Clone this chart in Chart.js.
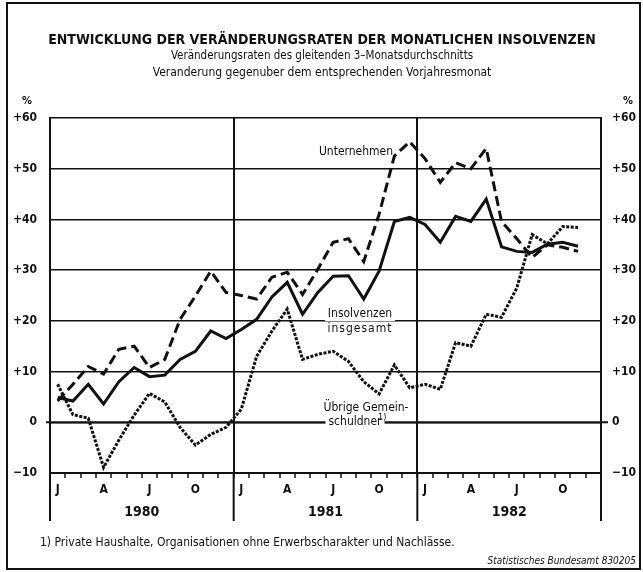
<!DOCTYPE html>
<html>
<head>
<meta charset="utf-8">
<script src="https://cdn.jsdelivr.net/npm/chart.js@4.4.1/dist/chart.umd.min.js"></script>
<style>
html,body{margin:0;padding:0;background:#fff;}
#wrap{width:643px;height:572px;position:relative;}
</style>
</head>
<body>
<div id="wrap"><canvas id="c" width="643" height="572"></canvas></div>
<script>
// ---- data ----
const years = ['1980', '1981', '1982'];
const monthLetters = ['J','F','M','A','M','J','J','A','S','O','N','D'];
const shownMonths = ['J','A','J','O'];
const months = [];
years.forEach(y => monthLetters.forEach((m, i) => months.push(y + '-' + (i + 1))));

const unternehmen = [
  4.2, 7.5, 11, 9.5, 14.4, 15, 10.8, 12.4, 20.3, 24.9, 29.8, 25.6,
  25, 24.3, 28.6, 29.6, 25.2, 30.2, 35.5, 36.2, 31.7, 41, 52.5, 55.3,
  52, 47.3, 51.2, 50, 54, 39.6, 36.2, 32.5, 35, 34.5, 33.7
];
const insgesamt = [
  4.9, 4.2, 7.5, 3.6, 8, 10.8, 9, 9.3, 12.4, 14, 18, 16.5,
  18.3, 20.3, 24.7, 27.6, 21.3, 25.6, 28.8, 28.9, 24.3, 29.8, 39.6, 40.4,
  39, 35.5, 40.6, 39.6, 44, 34.6, 33.7, 33.5, 35.1, 35.5, 34.7
];
const uebrige = [
  7.5, 1.5, 0.8, -8.9, -3.5, 1.4, 5.7, 4, -1, -4.5, -2.4, -1,
  2.6, 13, 18, 22.3, 12.4, 13.4, 14, 12, 8, 5.6, 11.3, 6.8,
  7.5, 6.5, 15.7, 15, 21.3, 20.7, 26.5, 37, 35.2, 38.6, 38.4
];
const yTicks = [-10, 0, 10, 20, 30, 40, 50, 60];

const FONT = '"Liberation Sans Narrow", "DejaVu Sans Condensed", "Roboto Condensed", sans-serif';
const BLACK = '#111';

const decor = {
  id: 'decor',
  beforeDatasetsDraw(chart) {
    const ctx = chart.ctx, ys = chart.scales.y;
    const y0 = ys.getPixelForValue(0);
    ctx.save();
    ctx.strokeStyle = BLACK;
    ctx.lineWidth = 2;
    ctx.beginPath();
    ctx.moveTo(46, y0); ctx.lineTo(608, y0);
    ctx.stroke();

    ctx.textAlign = 'center';
    ctx.textBaseline = 'middle';
    // series labels with white backing (under the data lines, over the grid)
    function label(text, x, y, font, spacing) {
      ctx.font = font;
      ctx.letterSpacing = spacing || '0px';
      const w = ctx.measureText(text).width;
      ctx.fillStyle = '#fff';
      ctx.fillRect(x - w / 2 - 3, y - 7, w + 6, 14);
      ctx.fillStyle = BLACK;
      ctx.fillText(text, x, y);
      ctx.letterSpacing = '0px';
    }
    const lf = '12px ' + FONT;
    label('Unternehmen', 356, 152, lf);
    label('Insolvenzen', 360, 314, lf);
    label('insgesamt', 360, 329, lf, '1px');
    label('Übrige Gemein-', 366, 408, lf);
    label('schuldner', 355, 422, lf);
    ctx.font = '9px ' + FONT;
    ctx.textAlign = 'left';
    ctx.fillText('1)', 378, 418);
    ctx.restore();
  },
  afterDraw(chart) {
    const ctx = chart.ctx, xs = chart.scales.x, ca = chart.chartArea;
    ctx.save();
    // outer frame
    ctx.strokeStyle = BLACK;
    ctx.lineWidth = 2;
    ctx.strokeRect(7, 3, 633, 566);
    // year separators extended below axis
    const bounds = [ca.left];
    for (let k = 1; k < years.length; k++) {
      bounds.push((xs.getPixelForValue(12 * k - 1) + xs.getPixelForValue(12 * k)) / 2);
    }
    bounds.push(ca.right);
    ctx.beginPath();
    bounds.forEach(b => { ctx.moveTo(b, ca.bottom); ctx.lineTo(b, 521); });
    ctx.stroke();

    ctx.fillStyle = BLACK;
    ctx.textAlign = 'center';
    ctx.textBaseline = 'middle';
    // titles
    ctx.font = 'bold 14px ' + FONT;
    ctx.fillText('ENTWICKLUNG DER VERÄNDERUNGSRATEN DER MONATLICHEN INSOLVENZEN', 322, 40);
    ctx.font = '11.5px ' + FONT;
    ctx.fillText('Veränderungsraten des gleitenden 3–Monatsdurchschnitts', 322, 56);
    ctx.font = '12px ' + FONT;
    ctx.fillText('Veranderung gegenuber dem entsprechenden Vorjahresmonat', 322, 73);
    // percent signs
    ctx.font = 'bold 11px ' + FONT;
    ctx.fillText('%', 27, 101);
    ctx.fillText('%', 628, 101);

    // footnote & source
    ctx.font = '12px ' + FONT;
    ctx.textAlign = 'left';
    ctx.fillText('1) Private Haushalte, Organisationen ohne Erwerbscharakter und Nachlässe.', 40, 543);
    ctx.font = 'italic 10px ' + FONT;
    ctx.textAlign = 'right';
    ctx.fillText('Statistisches Bundesamt 830205', 636, 561);
    ctx.restore();
  }
};

const gridCol = BLACK;
const yTickFmt = v => (v > 0 ? '+' + v : v === 0 ? '0' : '−' + Math.abs(v));
new Chart(document.getElementById('c'), {
  type: 'line',
  data: {
    labels: months,
    datasets: [
      { label: 'Unternehmen', data: unternehmen, borderColor: BLACK, borderWidth: 3, borderDash: [10, 5], pointRadius: 0, tension: 0, fill: false },
      { label: 'Insolvenzen insgesamt', data: insgesamt, borderColor: BLACK, borderWidth: 3, pointRadius: 0, tension: 0, fill: false },
      { label: 'Übrige Gemeinschuldner', data: uebrige, borderColor: BLACK, borderWidth: 3, borderDash: [3, 1.5], pointRadius: 0, tension: 0, fill: false }
    ]
  },
  options: {
    responsive: false,
    animation: false,
    layout: { padding: { top: 118, left: 0, right: 0, bottom: 0 } },
    plugins: { legend: { display: false }, tooltip: { enabled: false }, title: { display: false } },
    scales: {
      x: {
        type: 'category',
        offset: true,
        afterFit: s => { s.height = 27; },
        grid: {
          display: true, offset: true, drawOnChartArea: true,
          color: c => (c.index % 12 === 0 ? gridCol : 'rgba(0,0,0,0)'),
          lineWidth: 2, tickColor: gridCol, tickLength: 5, tickWidth: 1.5
        },
        border: { display: true, color: gridCol, width: 2 },
        ticks: {
          autoSkip: false, maxRotation: 0, padding: 5, color: BLACK,
          font: { family: FONT, size: 12, weight: 'bold' },
          callback: (v, i) => (i % 3 === 0 ? shownMonths[(i % 12) / 3] : '')
        }
      },
      xYear: {
        type: 'category',
        labels: years,
        offset: true,
        position: 'bottom',
        afterFit: s => { s.height = 72; },
        grid: { display: false, drawTicks: false },
        border: { display: false },
        ticks: { padding: 4, color: BLACK, font: { family: FONT, size: 14, weight: 'bold' } }
      },
      y: {
        min: -10, max: 60,
        afterFit: s => { s.width = 50; },
        afterBuildTicks: s => { s.ticks = yTicks.map(v => ({ value: v })); },
        grid: { color: gridCol, lineWidth: 1.5, drawTicks: false },
        border: { display: true, color: gridCol, width: 2 },
        ticks: {
          padding: 13, color: BLACK,
          font: { family: FONT, size: 12, weight: 'bold' },
          callback: yTickFmt
        }
      },
      y2: {
        position: 'right',
        min: -10, max: 60,
        afterFit: s => { s.width = 42; },
        afterBuildTicks: s => { s.ticks = yTicks.map(v => ({ value: v })); },
        grid: { display: false, drawTicks: false },
        border: { display: true, color: gridCol, width: 2 },
        ticks: {
          padding: 11, color: BLACK,
          font: { family: FONT, size: 12, weight: 'bold' },
          callback: yTickFmt
        }
      }
    }
  },
  plugins: [decor]
});
</script>
</body>
</html>
